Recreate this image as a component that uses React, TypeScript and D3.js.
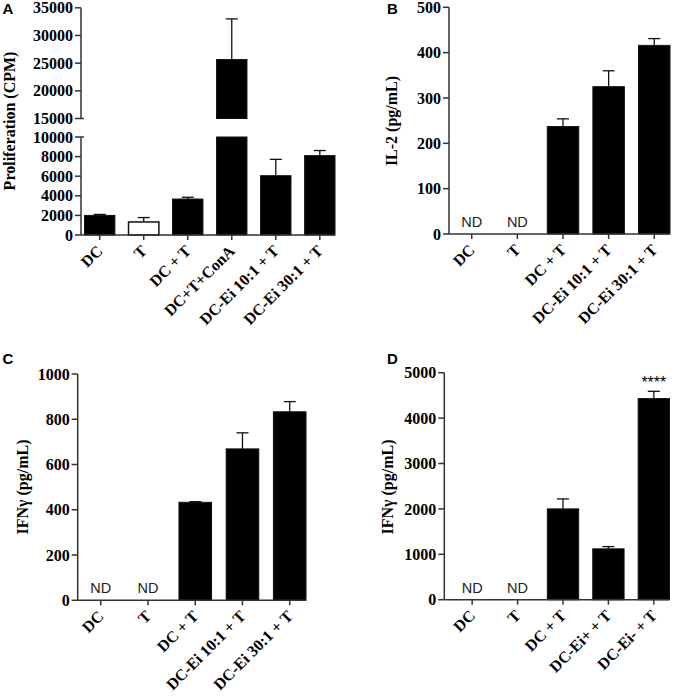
import * as d3 from 'd3';
import React from 'react';

// ---- data ----
const catsA = ['DC', 'T', 'DC + T', 'DC+T+ConA', 'DC-Ei 10:1 + T', 'DC-Ei 30:1 + T'];
const meanA = [2000, 1330, 3670, 25650, 6050, 8100];
const semA = [100, 450, 180, 7350, 1670, 520];
const hollowA = [false, true, false, false, false, false];
const ticksALow = [0, 2000, 4000, 6000, 8000, 10000];
const ticksAHigh = [15000, 20000, 25000, 30000, 35000];

const catsB = ['DC', 'T', 'DC + T', 'DC-Ei 10:1 + T', 'DC-Ei 30:1 + T'];
const meanB: (number | null)[] = [null, null, 237, 325, 416];
const semB = [0, 0, 17, 35, 15];
const ticksB = [0, 100, 200, 300, 400, 500];

const catsC = ['DC', 'T', 'DC + T', 'DC-Ei 10:1 + T', 'DC-Ei 30:1 + T'];
const meanC: (number | null)[] = [null, null, 433, 669, 833];
const semC = [0, 0, 3, 71, 45];
const ticksC = [0, 200, 400, 600, 800, 1000];

const catsD = ['DC', 'T', 'DC + T', 'DC-Ei+ + T', 'DC-Ei- + T'];
const meanD: (number | null)[] = [null, null, 2000, 1120, 4430];
const semD = [0, 0, 220, 50, 160];
const ticksD = [0, 1000, 2000, 3000, 4000, 5000];
const starsD = ['', '', '', '', '****'];

const serif = '"Liberation Serif", "Times New Roman", serif';
const sans = '"Liberation Sans", Arial, sans-serif';
const axisColor = '#333';

type Segment = { lo: number; hi: number; bottom: number; top: number; ticks: number[] };

type PanelProps = {
  letter: string;
  letterX: number;
  letterY: number;
  cats: string[];
  means: (number | null)[];
  sems: number[];
  hollow?: boolean[];
  stars?: string[];
  segments: Segment[];
  axisX: number;
  xEnd: number;
  bandStart: number;
  ylabel: string;
  ylabelX: number;
  ylabelY: number;
};

const Panel: React.FC<PanelProps> = (p) => {
  const y0 = p.segments[0].bottom;
  const x = d3.scaleBand()
    .domain(p.cats)
    .range([p.bandStart, p.xEnd])
    .paddingInner(0.31)
    .paddingOuter(0);
  const scales = p.segments.map(s => d3.scaleLinear().domain([s.lo, s.hi]).range([s.bottom, s.top]));
  const segOf = (v: number) => {
    let i = 0;
    p.segments.forEach((s, k) => { if (v >= s.lo) i = k; });
    return i;
  };
  const bw = x.bandwidth();
  const broken = p.segments.length > 1;

  return (
    <g>
      <text x={p.letterX} y={p.letterY} fontFamily={sans} fontWeight="bold" fontSize={15}>{p.letter}</text>
      <text transform={`translate(${p.ylabelX},${p.ylabelY}) rotate(-90)`} textAnchor="middle"
        fontFamily={serif} fontWeight="bold" fontSize={16}>{p.ylabel}</text>

      {/* bars */}
      {p.cats.map((c, i) => {
        const m = p.means[i];
        const bx = x(c)!;
        if (m === null) {
          return (
            <text key={c} x={bx + bw / 2} y={y0 - 7} textAnchor="middle" fontFamily={sans}
              fontSize={14.5} fill="#222">ND</text>
          );
        }
        const hollow = p.hollow ? p.hollow[i] : false;
        const k = segOf(m);
        const yTop = scales[k](m);
        const yErr = scales[k](m + p.sems[i]);
        const cx = bx + bw / 2;
        return (
          <g key={c}>
            {p.segments.map((s, j) => {
              if (m <= s.lo) return null;
              const t = scales[j](Math.min(m, s.hi));
              const b = scales[j](s.lo);
              return (
                <rect key={j} x={bx} y={t} width={bw} height={b - t}
                  fill={hollow ? '#fff' : '#000'} stroke="#111" strokeWidth={hollow ? 1.5 : 1} />
              );
            })}
            <line x1={cx} x2={cx} y1={yTop} y2={yErr} stroke="#111" strokeWidth={1.3} />
            <line x1={cx - 6} x2={cx + 6} y1={yErr} y2={yErr} stroke="#111" strokeWidth={1.3} />
            {p.stars && p.stars[i] ? (
              <text x={cx} y={yErr - 3} textAnchor="middle" fontFamily={sans} fontSize={16}>{p.stars[i]}</text>
            ) : null}
          </g>
        );
      })}

      {/* y axis */}
      {p.segments.map((s, j) => (
        <g key={j}>
          <line x1={p.axisX} x2={p.axisX} y1={s.bottom} y2={s.top} stroke={axisColor} strokeWidth={1.5} />
          {s.ticks.map(t => (
            <g key={t}>
              <line x1={p.axisX - 6} x2={p.axisX} y1={scales[j](t)} y2={scales[j](t)}
                stroke={axisColor} strokeWidth={1.5} />
              <text x={p.axisX - 8} y={scales[j](t)} dy="0.35em" textAnchor="end"
                fontFamily={serif} fontWeight="bold" fontSize={16}>{t}</text>
            </g>
          ))}
          {broken && j === 0 ? (
            <line x1={p.axisX} x2={p.axisX + 3} y1={s.top} y2={s.top} stroke={axisColor} strokeWidth={1.5} />
          ) : null}
          {broken && j === 1 ? (
            <line x1={p.axisX} x2={p.axisX + 3} y1={s.bottom} y2={s.bottom} stroke={axisColor} strokeWidth={1.5} />
          ) : null}
        </g>
      ))}

      {/* x axis */}
      <line x1={p.axisX} x2={p.xEnd} y1={y0} y2={y0} stroke={axisColor} strokeWidth={1.5} />
      {p.cats.map(c => {
        const cx = x(c)! + bw / 2;
        return (
          <g key={c}>
            <line x1={cx} x2={cx} y1={y0} y2={y0 + 5} stroke={axisColor} strokeWidth={1.5} />
            <text transform={`translate(${cx + 4},${y0 + 17}) rotate(-45)`} textAnchor="end"
              fontFamily={serif} fontWeight="bold" fontSize={16}>{c}</text>
          </g>
        );
      })}
    </g>
  );
};

const App: React.FC = () => {
  return (
    <svg width={680} height={697} style={{ position: 'absolute', left: 0, top: 0, background: '#fff' }}>
      <Panel letter="A" letterX={2.5} letterY={13.5}
        cats={catsA} means={meanA} sems={semA} hollow={hollowA}
        segments={[
          { lo: 0, hi: 10000, bottom: 235, top: 137, ticks: ticksALow },
          { lo: 15000, hi: 35000, bottom: 118.5, top: 7.8, ticks: ticksAHigh },
        ]}
        axisX={81} xEnd={335} bandStart={84.5}
        ylabel="Proliferation (CPM)" ylabelX={14.5} ylabelY={121} />
      <Panel letter="B" letterX={387} letterY={13.5}
        cats={catsB} means={meanB} sems={semB}
        segments={[{ lo: 0, hi: 500, bottom: 234, top: 7.3, ticks: ticksB }]}
        axisX={449} xEnd={670} bandStart={456}
        ylabel="IL-2 (pg/mL)" ylabelX={397} ylabelY={121} />
      <Panel letter="C" letterX={2.5} letterY={363.5}
        cats={catsC} means={meanC} sems={semC}
        segments={[{ lo: 0, hi: 1000, bottom: 600.3, top: 374, ticks: ticksC }]}
        axisX={77.7} xEnd={306} bandStart={84.5}
        ylabel="IFNγ (pg/mL)" ylabelX={28} ylabelY={487} />
      <Panel letter="D" letterX={387} letterY={363.5}
        cats={catsD} means={meanD} sems={semD} stars={starsD}
        segments={[{ lo: 0, hi: 5000, bottom: 599.7, top: 372.7, ticks: ticksD }]}
        axisX={444.3} xEnd={669.5} bandStart={456.5}
        ylabel="IFNγ (pg/mL)" ylabelX={393} ylabelY={487} />
    </svg>
  );
};

export default App;
